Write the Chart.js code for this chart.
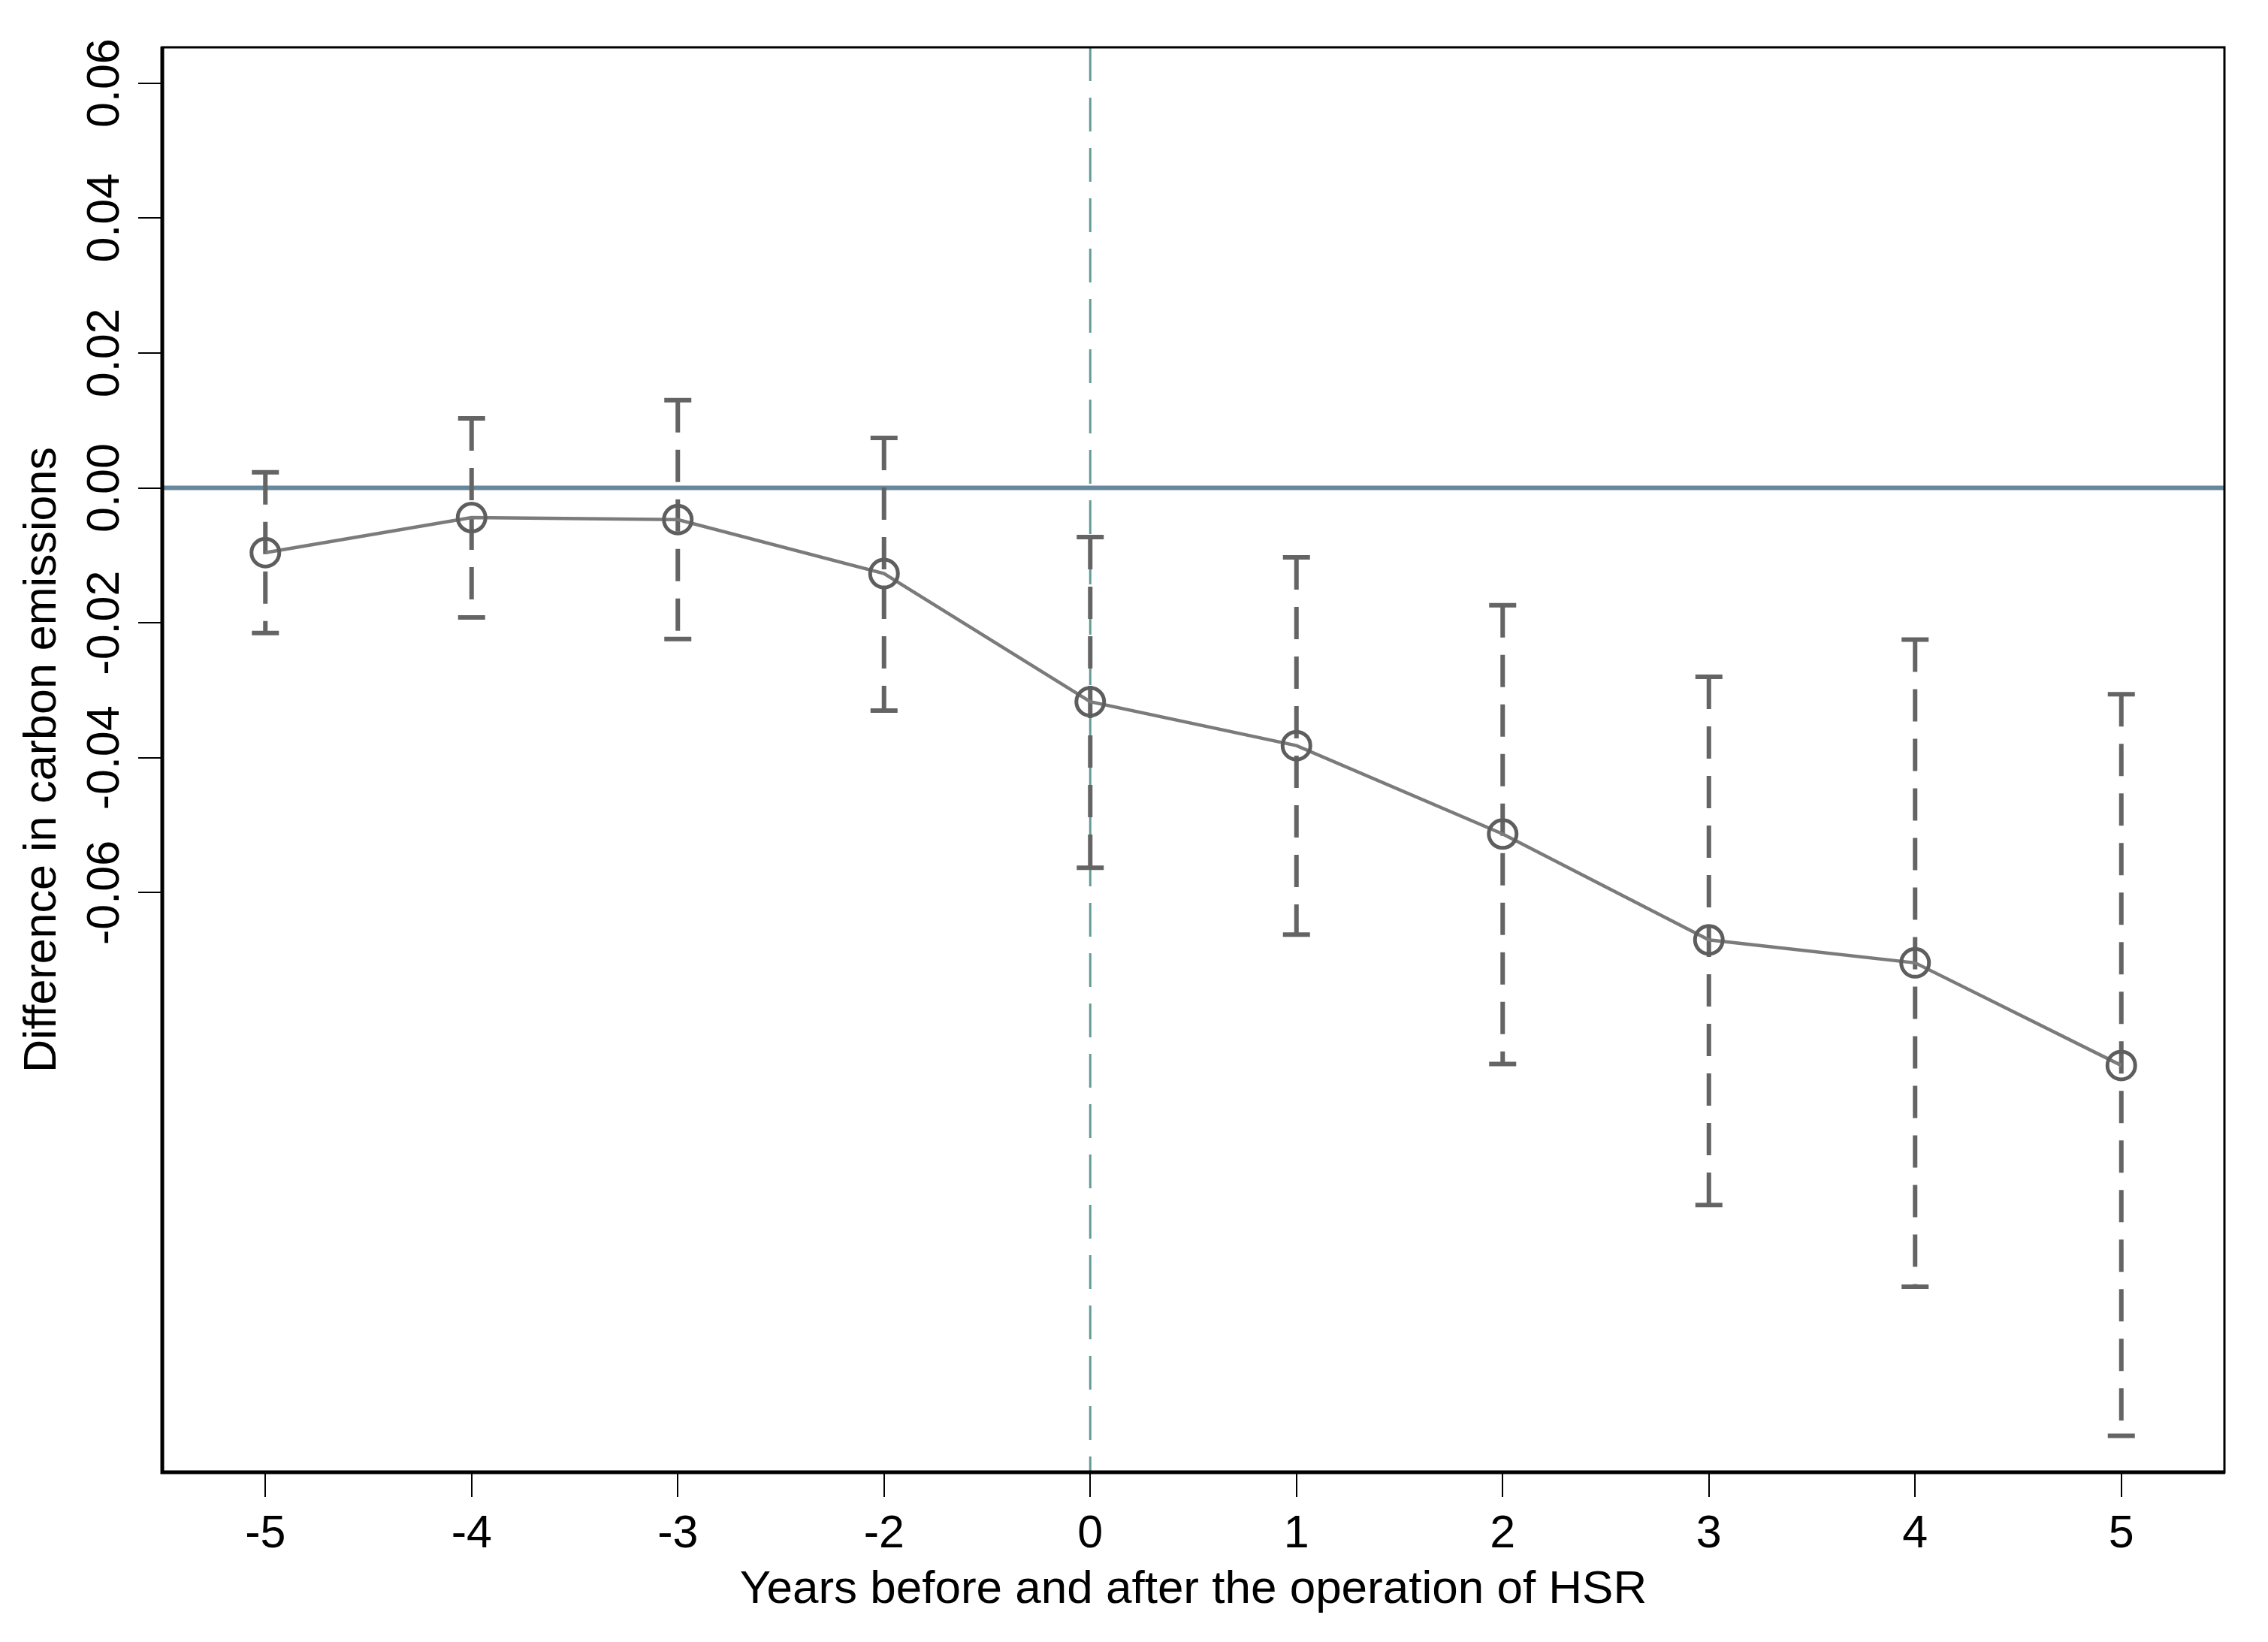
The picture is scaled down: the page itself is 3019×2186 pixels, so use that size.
<!DOCTYPE html>
<html>
<head>
<meta charset="utf-8">
<script src="https://cdn.jsdelivr.net/npm/chart.js@4"></script>
<style>
  html, body { margin: 0; padding: 0; background: #fff; }
  #wrap { width: 3019px; height: 2186px; }
</style>
</head>
<body>
<div id="wrap"><canvas id="eventChart" width="3019" height="2186"></canvas></div>
<script>
// Event-study estimates
const years = ['-5', '-4', '-3', '-2', '0', '1', '2', '3', '4', '5'];
const coef  = [-0.0096, -0.0044, -0.0047, -0.0127, -0.0317, -0.0382, -0.0513, -0.0670, -0.0704, -0.0856];
const upper = [0.0023, 0.0103, 0.0130, 0.0074, -0.0073, -0.0103, -0.0174, -0.0280, -0.0225, -0.0306];
const lower = [-0.0215, -0.0192, -0.0224, -0.0330, -0.0563, -0.0662, -0.0854, -0.1063, -0.1184, -0.1405];
const yTicks = [-0.06, -0.04, -0.02, 0, 0.02, 0.04, 0.06];
const eventYear = '0';

const FONT = "'Liberation Sans', Arial, sans-serif";

// reference lines, CI bars, frame and rotated y labels
const decor = {
    id: 'decor',
    beforeDatasetsDraw(chart) {
        const ctx = chart.ctx;
        const area = chart.chartArea;
        const x = chart.scales.x, y = chart.scales.y;
        ctx.save();

        // vertical dashed line at treatment year
        const xe = x.getPixelForValue(years.indexOf(eventYear));
        ctx.strokeStyle = '#639b95';
        ctx.lineWidth = 3;
        ctx.setLineDash([45, 22]);
        ctx.beginPath();
        ctx.moveTo(xe, area.top);
        ctx.lineTo(xe, area.bottom);
        ctx.stroke();

        // zero line
        ctx.setLineDash([]);
        ctx.strokeStyle = '#66889c';
        ctx.lineWidth = 6;
        const y0 = y.getPixelForValue(0);
        ctx.beginPath();
        ctx.moveTo(area.left, y0);
        ctx.lineTo(area.right, y0);
        ctx.stroke();

        // confidence intervals
        ctx.strokeStyle = '#646464';
        ctx.lineWidth = 6;
        ctx.lineCap = 'butt';
        years.forEach(function(lbl, i) {
            const px = x.getPixelForValue(i);
            const yu = y.getPixelForValue(upper[i]);
            const yl = y.getPixelForValue(lower[i]);
            ctx.setLineDash([43, 23]);
            ctx.beginPath();
            ctx.moveTo(px, yu);
            ctx.lineTo(px, yl);
            ctx.stroke();
            ctx.setLineDash([]);
            ctx.beginPath();
            ctx.moveTo(px - 18, yu);
            ctx.lineTo(px + 18, yu);
            ctx.moveTo(px - 18, yl);
            ctx.lineTo(px + 18, yl);
            ctx.stroke();
        });
        ctx.restore();
    },
    afterDraw(chart) {
        const ctx = chart.ctx;
        const area = chart.chartArea;
        const y = chart.scales.y;
        ctx.save();

        // plot frame
        ctx.strokeStyle = '#000';
        ctx.lineWidth = 3;
        ctx.strokeRect(area.left, area.top, area.right - area.left, area.bottom - area.top);
        ctx.lineWidth = 5;
        ctx.beginPath();
        ctx.moveTo(area.left, area.top - 1);
        ctx.lineTo(area.left, area.bottom);
        ctx.lineTo(area.right + 1, area.bottom);
        ctx.stroke();

        // y tick labels, rotated like the original
        ctx.fillStyle = '#000';
        ctx.font = '61px ' + FONT;
        ctx.textAlign = 'center';
        ctx.textBaseline = 'alphabetic';
        y.ticks.forEach(function(t) {
            const py = y.getPixelForValue(t.value);
            ctx.save();
            ctx.translate(158, py);
            ctx.rotate(-Math.PI / 2);
            ctx.fillText(t.value.toFixed(2), 0, 0);
            ctx.restore();
        });
        ctx.restore();
    }
};

const ctx = document.getElementById('eventChart').getContext('2d');
const eventChart = new Chart(ctx, {
    type: 'line',
    data: {
        labels: years,
        datasets: [{
            label: 'Estimate',
            data: coef,
            borderColor: '#7b7b7b',
            borderWidth: 4.5,
            pointStyle: 'circle',
            pointRadius: 18.5,
            pointBorderWidth: 5,
            pointBackgroundColor: 'rgba(0,0,0,0)',
            pointBorderColor: '#5e5e5e',
            tension: 0,
            fill: false
        }]
    },
    options: {
        responsive: false,
        animation: false,
        devicePixelRatio: 1,
        layout: {
            padding: { left: 0, right: 58, top: 63, bottom: 0 }
        },
        plugins: {
            legend: { display: false },
            tooltip: { enabled: false }
        },
        scales: {
            x: {
                type: 'category',
                offset: true,
                afterFit: function(scale) { scale.height = 226; },
                border: { display: false },
                grid: {
                    offset: false,
                    drawOnChartArea: false,
                    drawTicks: true,
                    tickLength: 33,
                    color: '#000',
                    lineWidth: 2
                },
                ticks: {
                    color: '#000',
                    padding: 14,
                    maxRotation: 0,
                    autoSkip: false,
                    font: { family: FONT, size: 61 }
                },
                title: {
                    display: true,
                    text: 'Years before and after the operation of HSR',
                    color: '#000',
                    font: { family: FONT, size: 62 },
                    padding: { top: 0, bottom: 32 }
                }
            },
            y: {
                min: -0.1459,
                max: 0.0653,
                afterBuildTicks: function(axis) {
                    axis.ticks = yTicks.map(function(v) { return { value: v }; });
                },
                afterFit: function(scale) { scale.width = 216; },
                border: { display: false },
                grid: {
                    drawOnChartArea: false,
                    drawTicks: true,
                    tickLength: 32,
                    color: '#000',
                    lineWidth: 2
                },
                ticks: { display: false },
                title: {
                    display: true,
                    text: 'Difference in carbon emissions',
                    color: '#000',
                    font: { family: FONT, size: 61 },
                    padding: { top: 21, bottom: 0 }
                }
            }
        }
    },
    plugins: [decor]
});
</script>
</body>
</html>
